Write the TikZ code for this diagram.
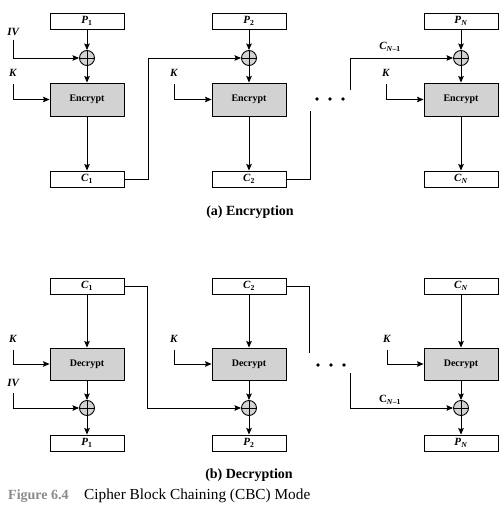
\documentclass[tikz,border=0pt]{standalone}
\usepackage{fontspec}
\setmainfont{Liberation Serif}
\usetikzlibrary{arrows.meta}
\newcommand{\lbl}[2]{\textbf{\textit{#1}}\textsubscript{\textbf{#2}}}
\definecolor{boxgray}{HTML}{D2D2D2}
\definecolor{figgray}{HTML}{8A8A8A}
\tikzset{
  line/.style={line width=0.9pt},
  arr/.style={line, -{Stealth[length=6.5pt,width=5.5pt,inset=1pt]}},
  iobox/.style={draw, line width=0.9pt, minimum width=74pt, minimum height=16pt, inner sep=0pt, font=\fontsize{11}{12}\selectfont},
  cryptbox/.style={draw, line width=0.9pt, fill=boxgray, minimum width=74pt, minimum height=33pt, inner sep=0pt, font=\bfseries\fontsize{10}{11}\selectfont},
  xor/.style={circle, draw, line width=0.9pt, fill=boxgray, minimum size=15pt, inner sep=0pt,
    path picture={\draw[line width=0.9pt] (path picture bounding box.north) -- (path picture bounding box.south)
      (path picture bounding box.west) -- (path picture bounding box.east);}},
  keylbl/.style={inner sep=0pt, font=\fontsize{11}{12}\selectfont},
  dot/.style={circle, fill=black, minimum size=3.6pt, inner sep=0pt},
  captxt/.style={inner sep=0pt, font=\bfseries\fontsize{14}{16}\selectfont}
}
\begin{document}
\begin{tikzpicture}[x=1pt,y=-1pt]
\useasboundingbox (0,0) rectangle (500,513);

% ---------- Encryption ----------
\node[iobox] (p1) at (87,21) {\lbl{P}{1}};
\node[xor] (x1) at (87,58) {};
\node[cryptbox] (e1) at (87,99.5) {Encrypt};
\node[iobox] (c1) at (87,179) {\lbl{C}{1}};
\node[keylbl] (iv1) at (13.5,32) {\textbf{\textit{IV}}};
\node[keylbl] (k1) at (13,73) {\textbf{\textit{K}}};
\coordinate (iv1s) at (13,40);
\coordinate (k1s) at (13,84);
\draw[arr] (p1) -- (x1);
\draw[arr] (x1) -- (e1);
\draw[arr] (e1) -- (c1);
\draw[arr] (iv1s) |- (x1.west);
\draw[arr] (k1s) |- (e1.west);

\node[iobox] (p2) at (249,21) {\lbl{P}{2}};
\node[xor] (x2) at (249,58) {};
\node[cryptbox] (e2) at (249,99.5) {Encrypt};
\node[iobox] (c2) at (249,179) {\lbl{C}{2}};
\node[keylbl] (k2) at (174,73) {\textbf{\textit{K}}};
\coordinate (k2s) at (174,84);
\draw[arr] (p2) -- (x2);
\draw[arr] (x2) -- (e2);
\draw[arr] (e2) -- (c2);
\draw[arr] (k2s) |- (e2.west);
\coordinate (j1) at (148,179);
\draw[arr] (c1.east) -- (j1) |- (x2.west);
\coordinate (d1) at (310,111);
\draw[line] (c2.east) -| (d1);

\node[dot] (ed1) at (317,99) {};
\node[dot] (ed2) at (330,99) {};
\node[dot] (ed3) at (343,99) {};

\node[iobox] (pN) at (461,21) {\lbl{P}{\textit{N}}};
\node[xor] (xN) at (461,58) {};
\node[cryptbox] (eN) at (461,99.5) {Encrypt};
\node[iobox] (cN) at (461,179) {\lbl{C}{\textit{N}}};
\node[keylbl] (kN) at (386,73) {\textbf{\textit{K}}};
\coordinate (kNs) at (386,84);
\draw[arr] (pN) -- (xN);
\draw[arr] (xN) -- (eN);
\draw[arr] (eN) -- (cN);
\draw[arr] (kNs) |- (eN.west);
\coordinate (d2) at (350,90);
\draw[arr] (d2) |- (xN.west);
\node[keylbl] (cn1) at (390,47) {\lbl{C}{\textit{N}--1}};

\node[captxt] (capa) at (250,212) {(a) Encryption};

% ---------- Decryption ----------
\node[iobox] (cc1) at (87,286) {\lbl{C}{1}};
\node[cryptbox, minimum height=32pt] (d1b) at (87,364) {Decrypt};
\node[xor] (xd1) at (87,408) {};
\node[iobox] (pp1) at (87,443) {\lbl{P}{1}};
\node[keylbl] (kd1) at (13,339) {\textbf{\textit{K}}};
\node[keylbl] (ivd) at (13.5,383) {\textbf{\textit{IV}}};
\coordinate (kd1s) at (13,350);
\coordinate (ivds) at (13,393);
\draw[arr] (cc1) -- (d1b);
\draw[arr] (d1b) -- (xd1);
\draw[arr] (xd1) -- (pp1);
\draw[arr] (kd1s) |- (d1b.west);
\draw[arr] (ivds) |- (xd1.west);

\node[iobox] (cc2) at (249,286) {\lbl{C}{2}};
\node[cryptbox, minimum height=32pt] (d2b) at (249,364) {Decrypt};
\node[xor] (xd2) at (249,408) {};
\node[iobox] (pp2) at (249,443) {\lbl{P}{2}};
\node[keylbl] (kd2) at (174,339) {\textbf{\textit{K}}};
\coordinate (kd2s) at (174,350);
\draw[arr] (cc2) -- (d2b);
\draw[arr] (d2b) -- (xd2);
\draw[arr] (xd2) -- (pp2);
\draw[arr] (kd2s) |- (d2b.west);
\coordinate (j2) at (147,286);
\draw[arr] (cc1.east) -- (j2) |- (xd2.west);
\coordinate (d3) at (309,353);
\draw[line] (cc2.east) -| (d3);

\node[dot] (dd1) at (318,365) {};
\node[dot] (dd2) at (331,365) {};
\node[dot] (dd3) at (344,365) {};

\node[iobox] (ccN) at (461,286) {\lbl{C}{\textit{N}}};
\node[cryptbox, minimum height=32pt] (dNb) at (461,364) {Decrypt};
\node[xor] (xdN) at (461,408) {};
\node[iobox] (ppN) at (461,443) {\lbl{P}{\textit{N}}};
\node[keylbl] (kdN) at (387,339) {\textbf{\textit{K}}};
\coordinate (kdNs) at (387,350);
\draw[arr] (ccN) -- (dNb);
\draw[arr] (dNb) -- (xdN);
\draw[arr] (xdN) -- (ppN);
\draw[arr] (kdNs) |- (dNb.west);
\coordinate (d4) at (350,373);
\draw[arr] (d4) |- (xdN.west);
\node[keylbl] (cn2) at (390,400) {\textbf{C}\textsubscript{\textbf{\textit{N}--1}}};

\node[captxt] (capb) at (249,475) {(b) Decryption};

\node[anchor=base west, inner sep=0pt, text=figgray, font=\bfseries\fontsize{14}{16}\selectfont] (fig) at (8,499) {Figure 6.4};
\node[anchor=base west, inner sep=0pt, font=\fontsize{15.3}{17}\selectfont] (figt) at (84,499) {Cipher Block Chaining (CBC) Mode};
\end{tikzpicture}
\end{document}
